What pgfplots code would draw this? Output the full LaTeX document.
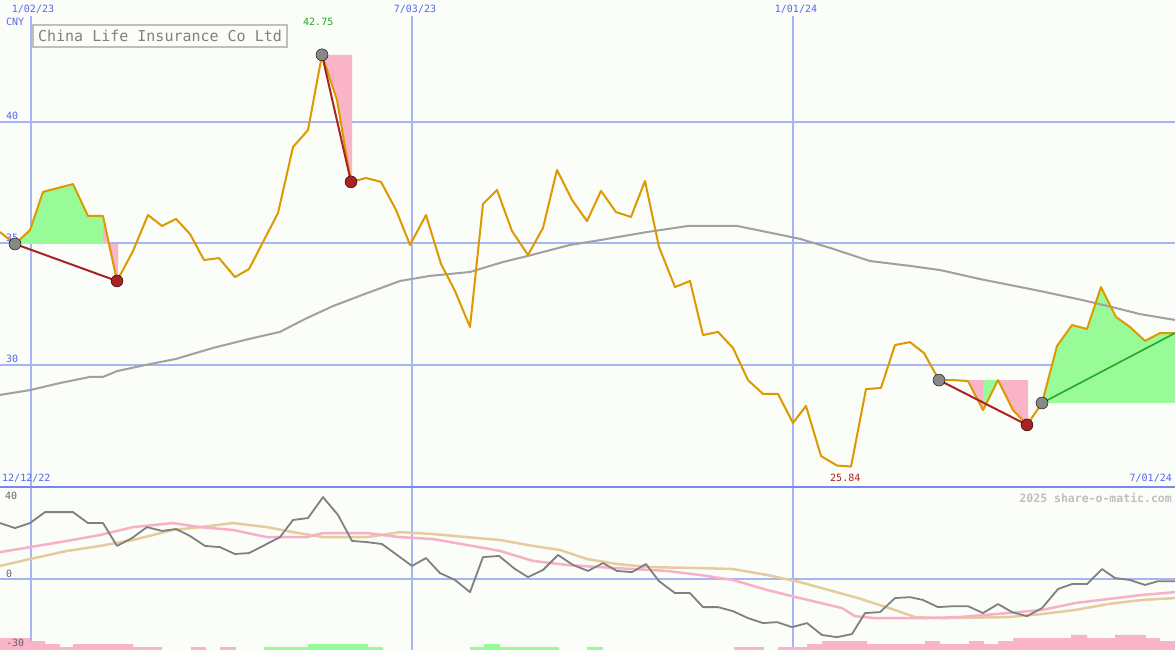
\documentclass[border=0pt]{standalone}
\usepackage{fontspec}
\setmainfont{DejaVu Sans Mono}
\usepackage{pgfplots}
\usepackage{pgfplotstable}
\pgfplotsset{compat=1.18}

\definecolor{bgc}{HTML}{FBFDF9}
\definecolor{gridb}{HTML}{A8B4F4}
\definecolor{divb}{HTML}{7888F0}
\definecolor{lblb}{HTML}{5566EE}
\definecolor{pricec}{HTML}{DD9900}
\definecolor{mac}{HTML}{A0A0A0}
\definecolor{fgreen}{HTML}{98FB98}
\definecolor{fpink}{HTML}{FAB4C8}
\definecolor{dred}{HTML}{AA2222}
\definecolor{tgreen}{HTML}{22AA22}
\definecolor{oscc}{HTML}{808080}
\definecolor{sigp}{HTML}{F8B0C8}
\definecolor{tanc}{HTML}{E4CC9C}
\definecolor{dotg}{HTML}{888888}

% weekly close, x in chart units (1 unit = 1px)
\pgfplotstableread{
x y
0 35.47
15 34.98
30 35.55
43 37.12
58 37.28
73 37.44
88 36.13
103 36.13
117 33.46
133 34.69
148 36.17
162 35.72
176 36.01
190 35.39
204 34.32
219 34.40
235 33.62
249 33.95
263 35.06
278 36.25
293 38.96
308 39.66
322 42.75
337 40.89
351 37.53
366 37.69
381 37.53
396 36.38
410 34.94
426 36.17
441 34.16
455 33.05
470 31.57
483 36.62
497 37.20
512 35.51
528 34.53
543 35.64
557 38.02
572 36.79
587 35.92
601 37.16
616 36.29
631 36.09
645 37.57
659 34.86
675 33.21
690 33.46
703 31.24
718 31.37
733 30.71
748 29.39
763 28.82
778 28.82
793 27.63
806 28.33
821 26.27
837 25.88
851 25.84
866 29.02
881 29.07
895 30.83
910 30.95
924 30.50
939 29.39
954 29.39
968 29.35
983 28.16
998 29.39
1013 28.16
1027 27.55
1042 28.45
1057 30.79
1072 31.65
1087 31.49
1101 33.21
1116 31.98
1130 31.57
1145 31.00
1160 31.32
1175 31.32
}\price

% long moving average
\pgfplotstableread{
x y
0 28.78
30 28.98
60 29.27
90 29.52
103 29.52
117 29.76
150 30.05
176 30.26
213 30.71
245 31.04
280 31.37
305 31.90
333 32.43
365 32.93
400 33.46
430 33.67
470 33.83
503 34.24
528 34.49
570 34.94
600 35.14
647 35.47
688 35.72
737 35.72
767 35.47
800 35.19
830 34.82
870 34.28
910 34.08
940 33.91
980 33.54
1040 33.05
1082 32.68
1112 32.39
1140 32.10
1175 31.86
}\ma

\pgfplotstableread{
x y
0 23.3
15 21.2
30 23.3
45 27.9
73 27.9
88 23.3
103 23.3
117 13.7
132 17.0
147 21.6
162 20.0
176 20.8
190 17.9
205 13.7
220 13.2
235 10.3
249 10.7
263 13.7
280 17.4
293 24.6
308 25.4
323 34.2
338 26.7
352 15.8
367 15.3
382 14.5
400 9.0
412 5.3
426 8.6
440 2.3
455 -0.6
470 -5.7
483 9.0
499 9.5
515 4.0
528 0.6
543 3.6
558 9.9
573 5.7
588 3.2
603 6.5
617 3.2
632 2.7
646 6.1
659 -1.1
675 -6.1
690 -6.1
703 -12.0
718 -12.0
733 -13.7
748 -16.6
763 -18.7
777 -18.3
792 -20.4
807 -18.7
822 -23.7
837 -24.6
852 -23.3
865 -14.5
880 -14.1
895 -8.2
910 -7.8
923 -9.0
938 -12.0
953 -11.6
968 -11.6
983 -14.5
998 -10.7
1012 -14.1
1027 -15.8
1042 -12.4
1058 -4.4
1072 -2.3
1087 -2.3
1102 4.0
1115 0.2
1130 -0.6
1145 -2.7
1158 -1.1
1175 -1.1
}\osc

\pgfplotstableread{
x y
0 11.1
30 13.2
67 15.8
100 18.3
133 21.6
173 23.3
200 21.6
233 20.4
267 17.4
307 17.4
323 19.1
367 19.1
400 17.4
433 16.6
467 14.1
500 11.6
533 7.4
567 5.7
600 4.8
633 4.0
667 3.2
700 1.5
733 -0.6
767 -4.8
800 -8.2
842 -12.4
855 -15.8
875 -16.6
925 -16.6
958 -16.2
1008 -14.5
1042 -13.2
1075 -10.3
1108 -8.6
1142 -6.9
1175 -5.7
}\sigA

\pgfplotstableread{
x y
0 5.3
30 8.2
67 11.6
100 13.7
133 16.2
173 20.4
200 21.6
233 23.3
267 21.6
293 19.5
323 17.4
367 17.4
400 19.5
433 18.7
467 17.4
500 16.2
533 13.7
560 12.0
587 8.2
617 6.1
650 4.8
700 4.4
733 4.0
767 1.5
800 -1.5
858 -8.2
892 -12.8
915 -16.2
942 -16.6
1008 -16.2
1042 -14.9
1075 -13.2
1108 -10.7
1142 -9.0
1175 -8.2
}\sigB

\begin{document}
\begin{tikzpicture}
\fill[bgc] (0,0) rectangle (1175pt,650pt);

% ---------------- price panel ----------------
\begin{axis}[
  at={(0,163pt)}, anchor=south west,
  scale only axis, width=1175pt, height=487pt,
  xmin=0, xmax=1175, ymin=25, ymax=45,
  axis lines=none, clip=false,
  font=\fontsize{10}{12}\selectfont,
]
% grid
\draw[gridb, line width=2pt] (axis cs:0,40) -- (axis cs:1175,40);
\draw[gridb, line width=2pt] (axis cs:0,35) -- (axis cs:1175,35);
\draw[gridb, line width=2pt] (axis cs:0,30) -- (axis cs:1175,30);
\draw[gridb, line width=1.3pt] (axis cs:31,44.34) -- (axis cs:31,25);
\draw[gridb, line width=2pt] (axis cs:412,44.34) -- (axis cs:412,25);
\draw[gridb, line width=1.3pt] (axis cs:793,44.34) -- (axis cs:793,25);

% shaded swings
\addplot[fill=fgreen, draw=none] coordinates {(15,34.98) (30,35.55) (43,37.12) (58,37.28) (73,37.44) (88,36.13) (103,36.13) (103,34.98)};
\addplot[fill=fpink, draw=none] coordinates {(103,36.13) (117,33.46) (118,33.46) (118,34.98) (103,34.98)};
\addplot[fill=fpink, draw=none] coordinates {(322,42.75) (337,40.89) (351,37.53) (352,37.53) (352,42.75)};
\addplot[fill=fpink, draw=none] coordinates {(968,29.39) (983,28.16) (983,29.39)};
\addplot[fill=fgreen, draw=none] coordinates {(983,28.16) (998,29.39) (983,29.39)};
\addplot[fill=fpink, draw=none] coordinates {(998,29.39) (1013,28.16) (1027,27.55) (1028,27.55) (1028,29.39)};
\addplot[fill=fgreen, draw=none] coordinates {(1042,28.45) (1057,30.79) (1072,31.65) (1087,31.49) (1101,33.21) (1116,31.98) (1130,31.57) (1145,31.00) (1160,31.32) (1175,31.32) (1175,28.45)};

% lines
\addplot[mac, line width=2pt] table[x=x,y=y]{\ma};
\addplot[pricec, line width=2pt, line join=round] table[x=x,y=y]{\price};
\addplot[dred, line width=2pt] coordinates {(15,34.98) (117,33.46)};
\addplot[dred, line width=2pt] coordinates {(322,42.75) (351,37.53)};
\addplot[dred, line width=2pt] coordinates {(939,29.39) (1027,27.55)};
\addplot[tgreen, line width=1.6pt] coordinates {(1042,28.45) (1175,31.32)};

% swing points
\addplot[only marks, mark=*, mark size=6pt, mark options={fill=dotg, draw=none}]
  coordinates {(15,34.98) (322,42.75) (939,29.39) (1042,28.45)};
\addplot[only marks, mark=*, mark size=6pt, mark options={fill=dred, draw=none}]
  coordinates {(117,33.46) (351,37.53) (1027,27.55)};

% text
\node[anchor=base, text=lblb, inner sep=0] at (axis cs:33,44.47) {1/02/23};
\node[anchor=base, text=lblb, inner sep=0] at (axis cs:415,44.47) {7/03/23};
\node[anchor=base, text=lblb, inner sep=0] at (axis cs:796,44.47) {1/01/24};
\node[anchor=base west, text=lblb, inner sep=0] at (axis cs:6,43.97) {CNY};
\node[anchor=base west, text=tgreen, inner sep=0] at (axis cs:303,43.97) {42.75};
\node[anchor=base west, text=lblb, inner sep=0] at (axis cs:6,40.1) {40};
\node[anchor=base west, text=lblb, inner sep=0] at (axis cs:6,35.1) {35};
\node[anchor=base west, text=lblb, inner sep=0] at (axis cs:6,30.1) {30};
\node[anchor=base west, text=lblb, inner sep=0] at (axis cs:2,25.21) {12/12/22};
\node[anchor=base west, text=dred, inner sep=0] at (axis cs:830,25.21) {25.84};
\node[anchor=base east, text=lblb, inner sep=0] at (axis cs:1172,25.21) {7/01/24};
\node[draw=black!25, line width=2pt, fill=bgc, text=oscc, inner sep=0,
      minimum width=254pt, minimum height=22pt,
      font=\fontsize{15}{18}\selectfont] at (axis cs:160,43.52) {China Life Insurance Co Ltd};
\end{axis}

% ---------------- oscillator panel ----------------
\begin{axis}[
  at={(0,0)}, anchor=south west,
  scale only axis, width=1175pt, height=163pt,
  xmin=0, xmax=1175, ymin=-30, ymax=38.45,
  axis lines=none, clip=false,
  font=\fontsize{10}{12}\selectfont,
]
\draw[gridb, line width=2pt] (axis cs:0,0) -- (axis cs:1175,0);
\draw[gridb, line width=1.3pt] (axis cs:31,38.45) -- (axis cs:31,-30);
\draw[gridb, line width=2pt] (axis cs:412,38.45) -- (axis cs:412,-30);
\draw[gridb, line width=1.3pt] (axis cs:793,38.45) -- (axis cs:793,-30);

% histogram
\addplot[const plot, fill=fpink, draw=none] coordinates {(0,-30) (0,-25.0) (30,-26.3) (45,-27.5) (60,-28.8) (73,-27.5) (133,-28.8) (162,-30)};
\addplot[const plot, fill=fpink, draw=none] coordinates {(191,-30) (191,-28.8) (206,-30)};
\addplot[const plot, fill=fpink, draw=none] coordinates {(220,-30) (220,-28.8) (236,-30)};
\addplot[const plot, fill=fgreen, draw=none] coordinates {(264,-30) (264,-28.8) (308,-27.5) (368,-28.8) (383,-30)};
\addplot[const plot, fill=fgreen, draw=none] coordinates {(470,-30) (470,-28.8) (484,-27.5) (500,-28.8) (559,-30)};
\addplot[const plot, fill=fgreen, draw=none] coordinates {(587,-30) (587,-28.8) (603,-30)};
\addplot[const plot, fill=fpink, draw=none] coordinates {(734,-30) (734,-28.8) (764,-30)};
\addplot[const plot, fill=fpink, draw=none] coordinates {(778,-30) (778,-28.8) (807,-27.5) (822,-26.3) (867,-27.5) (925,-26.3) (940,-27.5) (969,-26.3) (984,-27.5) (998,-26.3) (1013,-25.0) (1071,-23.7) (1087,-25.0) (1115,-23.7) (1146,-25.0) (1160,-26.3) (1175,-30)};

\addplot[tanc, line width=2.5pt] table[x=x,y=y]{\sigB};
\addplot[sigp, line width=2.5pt] table[x=x,y=y]{\sigA};
\addplot[oscc, line width=1.8pt, line join=round] table[x=x,y=y]{\osc};

\draw[divb, line width=2pt] (axis cs:0,38.45) -- (axis cs:1175,38.45);

\node[anchor=base east, text=black!25, inner sep=0, font=\fontsize{11.5}{13}\selectfont\bfseries] at (axis cs:1172,32.1) {2025 share-o-matic.com};
\node[anchor=base west, text=black!60, inner sep=0] at (axis cs:5,33.0) {40};
\node[anchor=base west, text=black!60, inner sep=0] at (axis cs:6,0.6) {0};
\node[anchor=base west, text=black!60, inner sep=0] at (axis cs:6,-28.4) {-30};
\end{axis}
\pgfresetboundingbox
\useasboundingbox (0,0) rectangle (1175pt,650pt);
\end{tikzpicture}
\end{document}
